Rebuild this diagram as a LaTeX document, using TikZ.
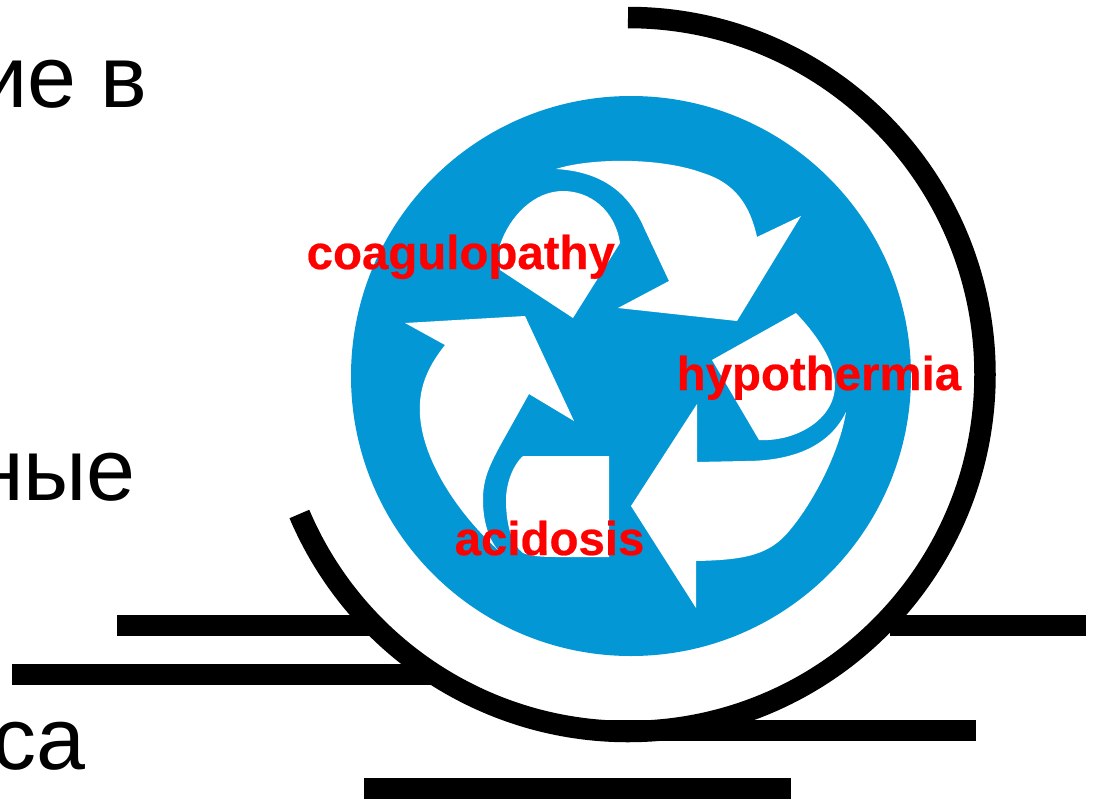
\documentclass[tikz,border=0pt]{standalone}
\usepackage{fontspec}
\setmainfont[BoldFeatures={FakeBold=0.5}]{Liberation Sans}
\definecolor{discblue}{HTML}{0397D6}
\tikzset{
  bar/.style={line width=21pt},
  biglabel/.style={inner sep=0pt,anchor=base east,font=\fontsize{88}{92}\selectfont},
  redlabel/.style={inner sep=0pt,anchor=base west,text=red,font=\fontsize{47.4}{50}\selectfont\bfseries},
}
\begin{document}
\begin{tikzpicture}[x=1pt,y=-1pt]
  \useasboundingbox[fill=white] (0,0) rectangle (1096,801);
  \begin{scope}
    \clip (0,0) rectangle (1096,801);
    % text cut by the left edge
    \node[biglabel] (lineone) at (148,107) {ие в};
    \node[biglabel] (linetwo) at (136,500) {ные};
    \node[biglabel] (linethree) at (86,769) {са};

    % bars
    \draw[bar] (117,625.5) to (372,625.5);
    \draw[bar] (12,674.5) to (436,674.5);
    \draw[bar] (890,625.5) to (1086,625.5);
    \draw[bar] (608,730) to (976,730);
    \draw[bar] (364,788) to (791,788);
    \draw[line width=21.5pt] (628,17.5) arc[start angle=-90,end angle=157,radius=357];

    % disc
    \fill[discblue] (631,376) circle (280);

    % top arrow
    \fill[white] (801,216) -- (737,321) -- (618,308) -- (669,281) -- (645,230)
      .. controls (630,195) and (605,172) .. (556,169)
      .. controls (590,158) and (660,157) .. (703,173)
      .. controls (735,183) and (750,205) .. (757,237) -- cycle;
    \fill[white] (573,318) -- (620,243)
      .. controls (615,210) and (590,191) .. (563,191)
      .. controls (535,191) and (510,215) .. (500,245) -- (500,270) -- cycle;
    % left arrow
    \fill[white] (405,323) -- (525,316) -- (574,421) -- (529,394) -- (505,437)
      .. controls (488,467) and (483,480) .. (483,500)
      .. controls (483,520) and (488,538) .. (498,550)
      .. controls (460,515) and (430,470) .. (422,430)
      .. controls (415,395) and (425,370) .. (445,345) -- cycle;
    \fill[white] (523,456) -- (609,456) -- (609,557) -- (557,557)
      .. controls (540,557) and (530,556) .. (523,553)
      .. controls (512,545) and (506,525) .. (506,500)
      .. controls (506,485) and (512,466) .. (523,456) -- cycle;
    % right arrow
    \fill[white] (631,506) -- (697,404) -- (697,462) -- (745,461)
      .. controls (795,461) and (830,445) .. (846,412)
      .. controls (840,450) and (815,500) .. (790,530)
      .. controls (770,555) and (745,560) .. (696,561)
      -- (696,608) -- cycle;
    \fill[white] (712,360) -- (796,313)
      .. controls (815,333) and (835,360) .. (835,385)
      .. controls (835,420) and (795,442) .. (759,440) -- cycle;

    % labels
    \node[redlabel] (coag) at (306.5,269) {coagulopathy};
    \node[redlabel] (hypo) at (676.5,390) {hypothermia};
    \node[redlabel] (acid) at (454.5,555) {acidosis};
  \end{scope}
\end{tikzpicture}
\end{document}
